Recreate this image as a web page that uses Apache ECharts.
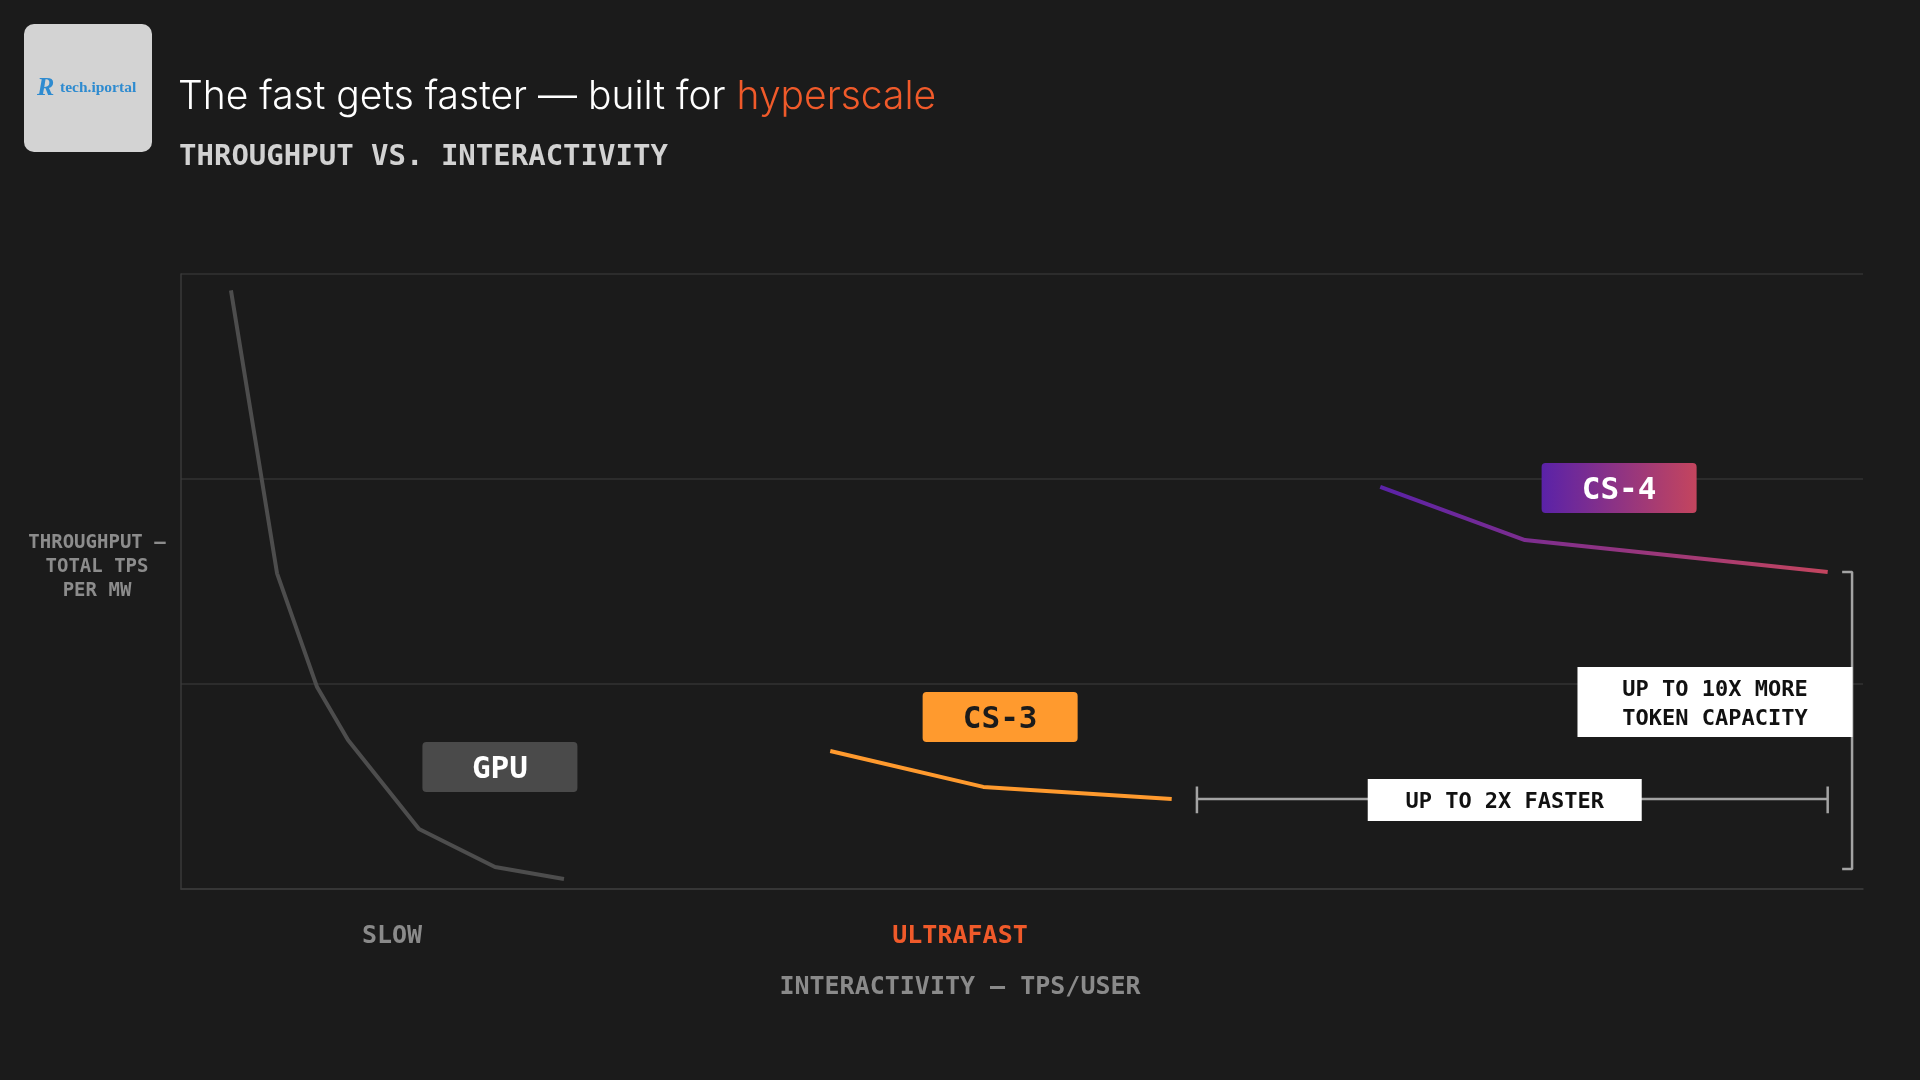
<!DOCTYPE html>
<html><head><meta charset="utf-8">
<script src="https://cdn.jsdelivr.net/npm/echarts@6/dist/echarts.min.js"></script>
<style>html,body{margin:0;padding:0;background:#1b1b1b;}#c{width:1920px;height:1080px;}</style>
</head><body><div id="c"></div>
<script>
// ---- data ----
const gpuX = [2.97, 5.71, 8.09, 9.93, 14.15, 18.67, 22.77];
const gpuY = [2.92, 1.54, 0.985, 0.727, 0.293, 0.107, 0.049];
const cs3X = [38.6, 47.7, 58.9];
const cs3Y = [0.673, 0.498, 0.439];
const cs4X = [71.3, 79.9, 97.9];
const cs4Y = [1.961, 1.702, 1.546];
const tagNames = ['GPU', 'CS-3', 'CS-4'];
const tagX = [18.96, 48.7, 85.5];
const tagY = [0.595, 0.839, 1.956];
const noteTexts = ['UP TO 2X FASTER', 'UP TO 10X MORE\nTOKEN CAPACITY'];
const noteX = [78.7, 91.2];
const noteY = [0.434, 0.912];
const fasterX = [60.4, 97.9];
const fasterY = 0.439;
const fasterCap = [0.37, 0.50];
const capacityX = [98.76, 99.35];
const capacityY = [1.546, 0.098];
const xNames = ['SLOW', 'ULTRAFAST'];

const MONO = '"DejaVu Sans Mono", "Liberation Mono", monospace';
const ROUND_BOX = 'path://M4,0 H151 A4,4 0 0 1 155,4 V46 A4,4 0 0 1 151,50 H4 A4,4 0 0 1 0,46 V4 A4,4 0 0 1 4,0 Z';
const zip = (xs, ys) => xs.map((x, i) => [x, ys[i]]);
const grad = () => new echarts.graphic.LinearGradient(0, 0, 1, 0, [
  { offset: 0, color: '#5A22A8' }, { offset: 1, color: '#C4455E' }]);

const bracket = (data) => ({
  type: 'line', data, symbol: 'none', silent: true, z: 3,
  lineStyle: { color: '#a3a3a3', width: 2.5 }
});

const tagStyles = [
  { bg: '#4a4a4a', fg: '#ffffff' },
  { bg: '#FF9A2E', fg: '#1b1b1b' },
  { bg: grad(), fg: '#ffffff' }
];

const chart = echarts.init(document.getElementById('c'));
chart.setOption({
  backgroundColor: '#1b1b1b',
  animation: false,
  grid: { left: 181, right: 57, top: 274, bottom: 191 },
  xAxis: {
    type: 'value', min: 0, max: 100,
    axisLine: { show: true, lineStyle: { color: '#3a3a3a', width: 1.5 } },
    axisTick: { show: false }, axisLabel: { show: false }, splitLine: { show: false }
  },
  yAxis: {
    type: 'value', min: 0, max: 3, interval: 1,
    axisLine: { show: true, lineStyle: { color: '#3a3a3a', width: 1.5 } },
    axisTick: { show: false }, axisLabel: { show: false },
    splitLine: { show: true, lineStyle: { color: '#333333', width: 1.5 } }
  },
  series: [
    { type: 'line', name: 'GPU', data: zip(gpuX, gpuY), symbol: 'none', z: 2,
      lineStyle: { color: '#4d4d4d', width: 4 } },
    { type: 'line', name: 'CS-3', data: zip(cs3X, cs3Y), symbol: 'none', z: 2,
      lineStyle: { color: '#FF9A2E', width: 4 } },
    { type: 'line', name: 'CS-4', data: zip(cs4X, cs4Y), symbol: 'none', z: 2,
      lineStyle: { color: grad(), width: 4 } },
    bracket(zip(fasterX, [fasterY, fasterY])),
    bracket([[fasterX[0], fasterCap[0]], [fasterX[0], fasterCap[1]]]),
    bracket([[fasterX[1], fasterCap[0]], [fasterX[1], fasterCap[1]]]),
    bracket([[capacityX[0], capacityY[0]], [capacityX[1], capacityY[0]],
             [capacityX[1], capacityY[1]], [capacityX[0], capacityY[1]]]),
    { type: 'scatter', symbol: ROUND_BOX, symbolSize: [155, 50], z: 5, silent: true, clip: false,
      data: tagNames.map((n, i) => ({
        value: [tagX[i], tagY[i]], name: n,
        itemStyle: { color: tagStyles[i].bg, opacity: 1 },
        label: {
          show: true, position: 'inside', formatter: n, offset: [0, 2.5],
          color: tagStyles[i].fg, fontFamily: MONO, fontWeight: 'bold', fontSize: 31
        }
      })) },
    { type: 'scatter', symbol: 'rect', z: 6, silent: true, clip: false,
      data: noteTexts.map((t, i) => ({
        value: [noteX[i], noteY[i]], name: t,
        symbolSize: i === 0 ? [274, 42] : [275, 70],
        itemStyle: { color: '#ffffff', opacity: 1 },
        label: {
          show: true, position: 'inside', formatter: t, offset: [0, 2.5],
          lineHeight: 29, align: 'center',
          color: '#111111', fontFamily: MONO, fontWeight: 'bold', fontSize: 22
        }
      })) }
  ],
  graphic: [
    { type: 'rect', shape: { x: 24, y: 24, width: 128, height: 128, r: 10 },
      style: { fill: '#d3d3d3' } },
    { type: 'text', style: { text: 'R', x: 37, y: 88, font: 'italic bold 26px "Liberation Serif", serif',
      fill: '#2e8bd0', align: 'left', verticalAlign: 'middle', textAlign: 'left', textVerticalAlign: 'middle' } },
    { type: 'text', style: { text: 'tech.iportal', x: 60, y: 88, font: 'bold 15.5px "Liberation Serif", serif',
      fill: '#2e8bd0', align: 'left', verticalAlign: 'middle', textAlign: 'left', textVerticalAlign: 'middle' } },
    { type: 'text', style: {
      text: '{a|The fast gets faster — built for }{b|hyperscale}', x: 178, y: 97,
      align: 'left', verticalAlign: 'middle', textAlign: 'left', textVerticalAlign: 'middle',
      rich: {
        a: { fontFamily: 'Inter', fontWeight: 300, fontSize: 39, fill: '#ffffff', color: '#ffffff' },
        b: { fontFamily: 'Inter', fontWeight: 300, fontSize: 39, fill: '#F05A2A', color: '#F05A2A' }
      } } },
    { type: 'text', style: { text: 'THROUGHPUT VS. INTERACTIVITY', x: 179, y: 157,
      font: 'bold 29px ' + MONO, fill: '#d2d2d2',
      align: 'left', verticalAlign: 'middle', textAlign: 'left', textVerticalAlign: 'middle' } },
    { type: 'text', style: { text: 'THROUGHPUT —\nTOTAL TPS\nPER MW', x: 97, y: 567,
      font: 'bold 19px ' + MONO, lineHeight: 24, fill: '#8c8c8c',
      align: 'center', verticalAlign: 'middle', textAlign: 'center', textVerticalAlign: 'middle' } },
    { type: 'text', style: { text: xNames[0], x: 392, y: 936, font: 'bold 25px ' + MONO, fill: '#8a8a8a',
      align: 'center', verticalAlign: 'middle', textAlign: 'center', textVerticalAlign: 'middle' } },
    { type: 'text', style: { text: xNames[1], x: 960, y: 936, font: 'bold 25px ' + MONO, fill: '#F05A2A',
      align: 'center', verticalAlign: 'middle', textAlign: 'center', textVerticalAlign: 'middle' } },
    { type: 'text', style: { text: 'INTERACTIVITY — TPS/USER', x: 960, y: 987, font: 'bold 25px ' + MONO, fill: '#8a8a8a',
      align: 'center', verticalAlign: 'middle', textAlign: 'center', textVerticalAlign: 'middle' } }
  ]
});
</script></body></html>
